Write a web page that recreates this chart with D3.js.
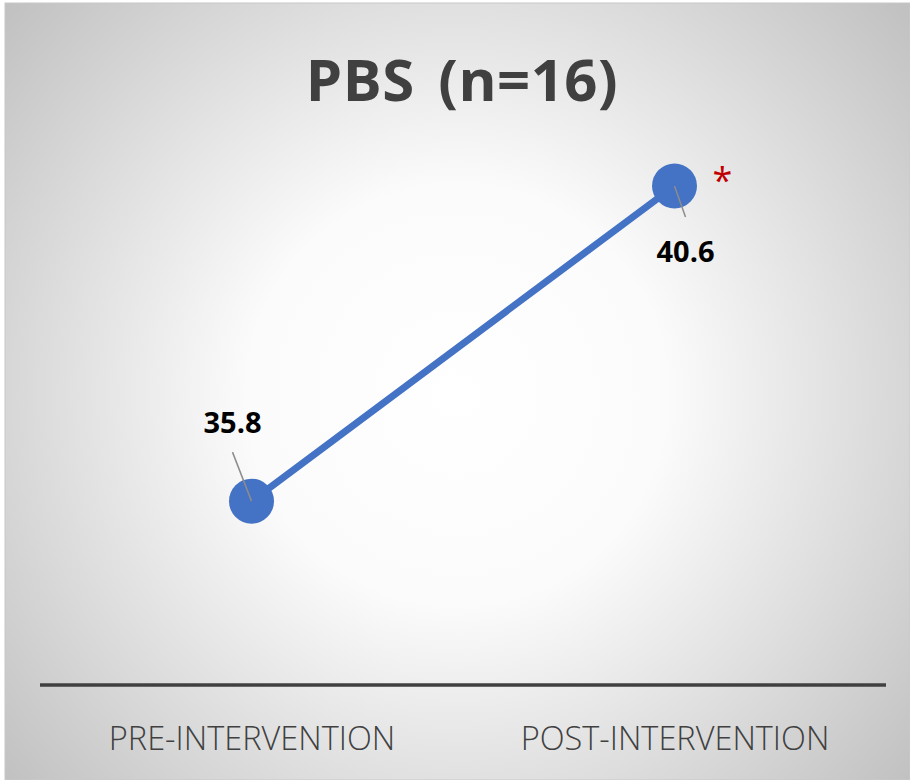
<!DOCTYPE html>
<html><head><meta charset="utf-8">
<script src="https://cdn.jsdelivr.net/npm/d3@7"></script>
<style>html,body{margin:0;padding:0;background:#fff;}svg{display:block;}</style>
</head><body>
<script>
const title = "PBS (n=16)";
const categories = ["PRE-INTERVENTION", "POST-INTERVENTION"];
const values = [35.8, 40.6];
const yDomain = [33, 42];
const significance = ["", "*"];

const W = 910, H = 780;
const svg = d3.select("body").append("svg").attr("width", W).attr("height", H);
const defs = svg.append("defs");
const grad = defs.append("radialGradient").attr("id", "bg")
  .attr("gradientUnits", "userSpaceOnUse").attr("cx", 457).attr("cy", 395).attr("r", 600);
grad.append("stop").attr("offset", 0).attr("stop-color", "#ffffff");
grad.append("stop").attr("offset", 0.35).attr("stop-color", "#fbfbfb");
grad.append("stop").attr("offset", 1).attr("stop-color", "#c0c0c0");

svg.append("rect").attr("x", 5).attr("y", 3).attr("width", W - 5).attr("height", H - 3)
  .attr("fill", "url(#bg)").attr("stroke", "#c8c8c8").attr("stroke-width", 1);

const x = d3.scalePoint().domain(categories).range([40, 886]).padding(0.5);
const y = d3.scaleLinear().domain(yDomain).range([685, 94]);

svg.append("text").attr("x", 462).attr("y", 101).attr("text-anchor", "middle")
  .attr("font-family", "'Open Sans', sans-serif").attr("font-weight", 700)
  .attr("font-size", 58).attr("word-spacing", 8).attr("letter-spacing", 0.5)
  .attr("fill", "#404040").text(title);

// axis
const axis = d3.axisBottom(x).tickSize(0).tickPadding(0);
const ag = svg.append("g").attr("transform", `translate(0,${y(yDomain[0])})`).call(axis);
ag.select(".domain").remove();
ag.append("line").attr("x1", 40).attr("x2", 886).attr("stroke", "#404040").attr("stroke-width", 3.5);
ag.selectAll(".tick text").attr("y", 65).attr("dy", 0)
  .attr("font-family", "'Open Sans', sans-serif").attr("font-weight", 300)
  .attr("font-size", 32.5).attr("fill", "#404040");

const pts = categories.map((c, i) => ({c, v: values[i], s: significance[i]}));
svg.append("path").datum(pts)
  .attr("d", d3.line().x(d => x(d.c)).y(d => y(d.v)))
  .attr("fill", "none").attr("stroke", "#4472C4").attr("stroke-width", 7);
svg.selectAll("circle.pt").data(pts).join("circle").attr("class", "pt")
  .attr("cx", d => x(d.c)).attr("cy", d => y(d.v)).attr("r", 22.5).attr("fill", "#4472C4");

// leader lines + labels
const offs = [{dx: -19, dy: -49, lx: -19, ly: -68}, {dx: 11, dy: 31, lx: 11, ly: 76}];
svg.selectAll("line.lead").data(pts).join("line").attr("class", "lead")
  .attr("x1", d => x(d.c)).attr("y1", d => y(d.v))
  .attr("x2", (d, i) => x(d.c) + offs[i].dx).attr("y2", (d, i) => y(d.v) + offs[i].dy)
  .attr("stroke", "#8c8c8c").attr("stroke-width", 1.5);
svg.selectAll("text.lbl").data(pts).join("text").attr("class", "lbl")
  .attr("x", (d, i) => x(d.c) + offs[i].lx).attr("y", (d, i) => y(d.v) + offs[i].ly)
  .attr("text-anchor", "middle").attr("font-family", "'Open Sans', sans-serif")
  .attr("font-weight", 700).attr("font-size", 29).attr("fill", "#000")
  .text(d => d.v.toFixed(1));
svg.selectAll("text.sig").data(pts.filter(d => d.s)).join("text").attr("class", "sig")
  .attr("x", d => x(d.c) + 48).attr("y", d => y(d.v) + 7)
  .attr("text-anchor", "middle").attr("font-family", "'Open Sans', sans-serif")
  .attr("font-size", 36).attr("fill", "#C00000").text(d => d.s);
</script>
</body></html>
